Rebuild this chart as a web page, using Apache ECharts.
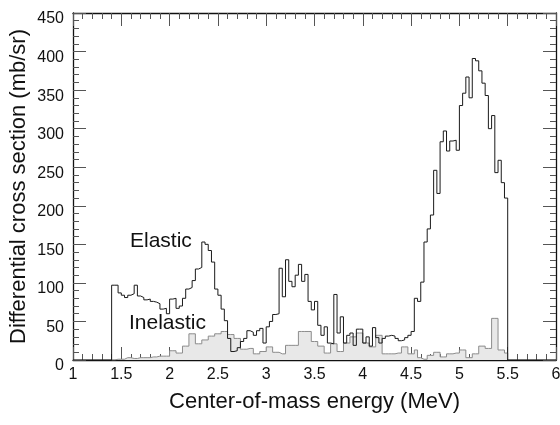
<!DOCTYPE html>
<html>
<head>
<meta charset="utf-8">
<script src="https://cdn.jsdelivr.net/npm/echarts@6/dist/echarts.min.js"></script>
<style>
html,body{margin:0;padding:0;background:#fff;}
#chart{width:560px;height:425px;}
</style>
</head>
<body>
<div id="chart"></div>
<script>
// ---- data ----
const xMin = 1, xMax = 6;
const yMin = 0, yMax = 450;
const xTicks = ["1","1.5","2","2.5","3","3.5","4","4.5","5","5.5","6"];
const binStart = 1.4;          // MeV, left edge of first bin
const binWidth = 1 / 30;       // MeV
const xTitle = "Center-of-mass energy (MeV)";
const yTitle = "Differential cross section (mb/sr)";
const seriesNames = ["Elastic", "Inelastic"];

const elastic = [
  97, 97, 87, 84, 81, 84, 86, 97, 83, 81,
  78, 79, 76, 75, 73, 66, 67, 60, 79, 80,
  67, 70, 80, 92, 94, 103, 118, 120, 153, 150,
  142, 127, 92, 84, 66, 51, 28, 11, 12, 16,
  24, 28, 38, 36, 32, 38, 41, 22, 43, 50,
  59, 60, 119, 82, 130, 102, 95, 110, 124, 102,
  111, 76, 65, 76, 45, 32, 43, 22, 21, 85,
  35, 56, 22, 32, 35, 19, 40, 40, 22, 30,
  18, 42, 29, 22, 28, 31, 32, 31, 28, 25,
  26, 29, 32, 37, 80, 76, 101, 153, 170, 188,
  246, 216, 283, 297, 271, 284, 285, 272, 330, 346,
  367, 340, 391, 388, 375, 359, 343, 300, 317, 243,
  259, 230, 210
];

const inelastic = [
  0, 1, 1, 1, 3, 3, 2, 2, 3, 3,
  3, 3, 4, 4, 5, 5, 5, 5, 12, 12,
  9, 9, 18, 18, 34, 34, 21, 21, 26, 26,
  31, 31, 34, 34, 37, 37, 33, 33, 28, 28,
  14, 14, 15, 15, 8, 8, 11, 11, 17, 17,
  10, 10, 8, 8, 19, 19, 19, 19, 37, 37,
  37, 37, 24, 24, 18, 18, 9, 9, 21, 21,
  11, 11, 22, 22, 30, 30, 35, 35, 22, 22,
  17, 17, 32, 32, 8, 8, 8, 8, 9, 9,
  17, 17, 8, 8, 13, 3, 1, 1, 6, 6,
  10, 10, 4, 4, 8, 8, 9, 9, 13, 13,
  3, 3, 8, 8, 18, 18, 15, 15, 54, 54,
  13, 13, 9
];

// ---- build step series points (left bin edges, step: 'end') ----
function edge(i){ return binStart + i * binWidth; }
const binEnd = edge(elastic.length);

const elasticPts = [[xMin, 0]];
elastic.forEach((v, i) => elasticPts.push([edge(i), v]));
elasticPts.push([binEnd, 0]);
elasticPts.push([xMax, 0]);

const inelasticPts = [];
inelastic.forEach((v, i) => inelasticPts.push([edge(i), v]));
inelasticPts.push([edge(inelastic.length), 0]);

const FONT = "'Liberation Sans', Arial, Helvetica, sans-serif";
const axisLineStyle = { color: '#111', width: 1.3 };
const tickStyle = { color: '#555', width: 1 };

const chart = echarts.init(document.getElementById('chart'), null, { renderer: 'canvas' });

const baseX = {
  type: 'value', min: xMin, max: xMax, interval: 0.5,
  axisLine: { show: true, onZero: false, lineStyle: axisLineStyle },
  axisTick: { show: true, inside: true, length: 13, lineStyle: tickStyle },
  minorTick: { show: true, splitNumber: 5, length: 6, lineStyle: tickStyle },
  splitLine: { show: false }, minorSplitLine: { show: false }
};
const baseY = {
  type: 'value', min: yMin, max: yMax, interval: 50,
  axisLine: { show: true, onZero: false, lineStyle: axisLineStyle },
  axisTick: { show: true, inside: true, length: 13, lineStyle: tickStyle },
  minorTick: { show: true, splitNumber: 5, length: 6, lineStyle: tickStyle },
  splitLine: { show: false }, minorSplitLine: { show: false }
};

chart.setOption({
  animation: false,
  backgroundColor: '#ffffff',
  grid: { left: 73, right: 4, top: 13, bottom: 65, containLabel: false, outerBoundsMode: 'none' },
  xAxis: [
    Object.assign({}, baseX, {
      position: 'bottom',
      name: xTitle, nameLocation: 'middle', nameGap: 31, nameMoveOverlap: false,
      nameTextStyle: { fontFamily: FONT, fontSize: 22, color: '#111' },
      axisLabel: {
        show: true, margin: 7, fontFamily: FONT, fontSize: 16, color: '#111',
        formatter: (v) => { const i = Math.round((v - xMin) / 0.5); return xTicks[i] !== undefined ? xTicks[i] : ''; }
      }
    }),
    Object.assign({}, baseX, { position: 'top', axisLabel: { show: false } })
  ],
  yAxis: [
    Object.assign({}, baseY, {
      position: 'left',
      name: yTitle, nameLocation: 'middle', nameGap: 43, nameRotate: 90, nameMoveOverlap: false,
      nameTextStyle: { fontFamily: FONT, fontSize: 22, color: '#111' },
      axisLabel: {
        show: true, margin: 9, color: '#111',
        formatter: (v) => '{p|' + v + '}',
        rich: { p: { fontFamily: FONT, fontSize: 16, color: '#111', padding: [12, 0, 0, 0] } }
      }
    }),
    Object.assign({}, baseY, { position: 'right', axisLabel: { show: false } })
  ],
  series: [
    {
      name: seriesNames[1], type: 'line', step: 'end', data: inelasticPts,
      xAxisIndex: 0, yAxisIndex: 0,
      showSymbol: false, symbol: 'none', silent: true, z: 2,
      lineStyle: { color: '#8c8c8c', width: 1 },
      areaStyle: { color: '#e8e8e8', opacity: 1 }
    },
    {
      name: seriesNames[0], type: 'line', step: 'end', data: elasticPts,
      xAxisIndex: 0, yAxisIndex: 0,
      showSymbol: false, symbol: 'none', silent: true, z: 3,
      lineStyle: { color: '#1a1a1a', width: 1 }
    }
  ],
  graphic: [
    { type: 'text', left: 130, top: 231, style: { text: seriesNames[0], fontFamily: FONT, fontSize: 21, fill: '#111' } },
    { type: 'text', left: 129, top: 313, style: { text: seriesNames[1], fontFamily: FONT, fontSize: 21, fill: '#111' } }
  ]
});
</script>
</body>
</html>
